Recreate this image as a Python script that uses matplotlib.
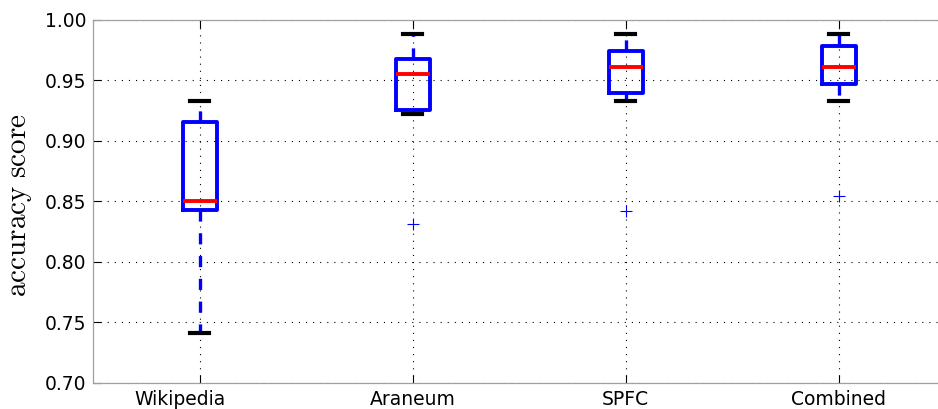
import matplotlib
matplotlib.use("Agg")
import matplotlib.pyplot as plt
from matplotlib.transforms import ScaledTranslation

# Accuracy distributions per training corpus
corpora = ["Wikipedia", "Araneum", "SPFC", "Combined"]
whisker_low = [0.741, 0.922, 0.933, 0.933]
quartile_1 = [0.843, 0.925, 0.939, 0.947]
medians = [0.850, 0.955, 0.961, 0.961]
quartile_3 = [0.915, 0.967, 0.974, 0.978]
whisker_high = [0.933, 0.988, 0.988, 0.988]
outliers = [[], [0.831], [0.842], [0.854]]

y_ticks = [0.70, 0.75, 0.80, 0.85, 0.90, 0.95, 1.00]

plt.rcParams["lines.scale_dashes"] = False
plt.rcParams["mathtext.fontset"] = "cm"

stats = []
for name, lo, q1, med, q3, hi, fl in zip(corpora, whisker_low, quartile_1, medians,
                                         quartile_3, whisker_high, outliers):
    stats.append(dict(label=name, whislo=lo, q1=q1, med=med, q3=q3, whishi=hi, fliers=fl))

W, H = 938, 409
fig = plt.figure(figsize=(W / 100, H / 100), dpi=100)
ax = fig.add_axes([93.3 / W, 26 / H, (945 - 93.3) / W, 363.5 / H])

ax.bxp(
    stats,
    positions=[1, 2, 3, 4],
    widths=0.16,
    capwidths=0.09,
    boxprops=dict(color="blue", linewidth=2.8),
    medianprops=dict(color="red", linewidth=2.8),
    whiskerprops=dict(color="blue", linewidth=2.4, linestyle=(0, (8, 8.4))),
    capprops=dict(color="black", linewidth=3.0),
    flierprops=dict(marker="+", markeredgecolor="blue", markersize=8.5,
                    markeredgewidth=0.8, linestyle="none"),
    zorder=3,
)

ax.set_xlim(0.5, 4.5)
ax.set_ylim(0.70, 1.00)
ax.set_yticks(y_ticks)
ax.set_yticklabels([f"{t:.2f}" for t in y_ticks])
ax.set_xticks([1, 2, 3, 4])
ax.set_xticklabels(corpora)

ax.grid(True, color="black", linestyle=(0, (0.8, 4.3)), linewidth=0.8, zorder=0)
ax.tick_params(direction="in", length=5.5, width=0.8, color="black",
               top=True, right=False, labelsize=13.5)
ax.tick_params(axis="y", pad=5)
ax.tick_params(axis="x", pad=5)
for sp in ax.spines.values():
    sp.set_color("#a0a0a0")
    sp.set_linewidth(0.9)
ax.spines["right"].set_visible(False)

# the first category label sits a little left of its box
first = ax.get_xticklabels()[0]
first.set_transform(first.get_transform() + ScaledTranslation(-0.2, 0, fig.dpi_scale_trans))

fig.text(20 / W, 1 - 205 / H, r"$\mathrm{accuracy\ score}$", rotation=90,
         ha="center", va="center", fontsize=21)

fig.savefig("out.png", dpi=100)
